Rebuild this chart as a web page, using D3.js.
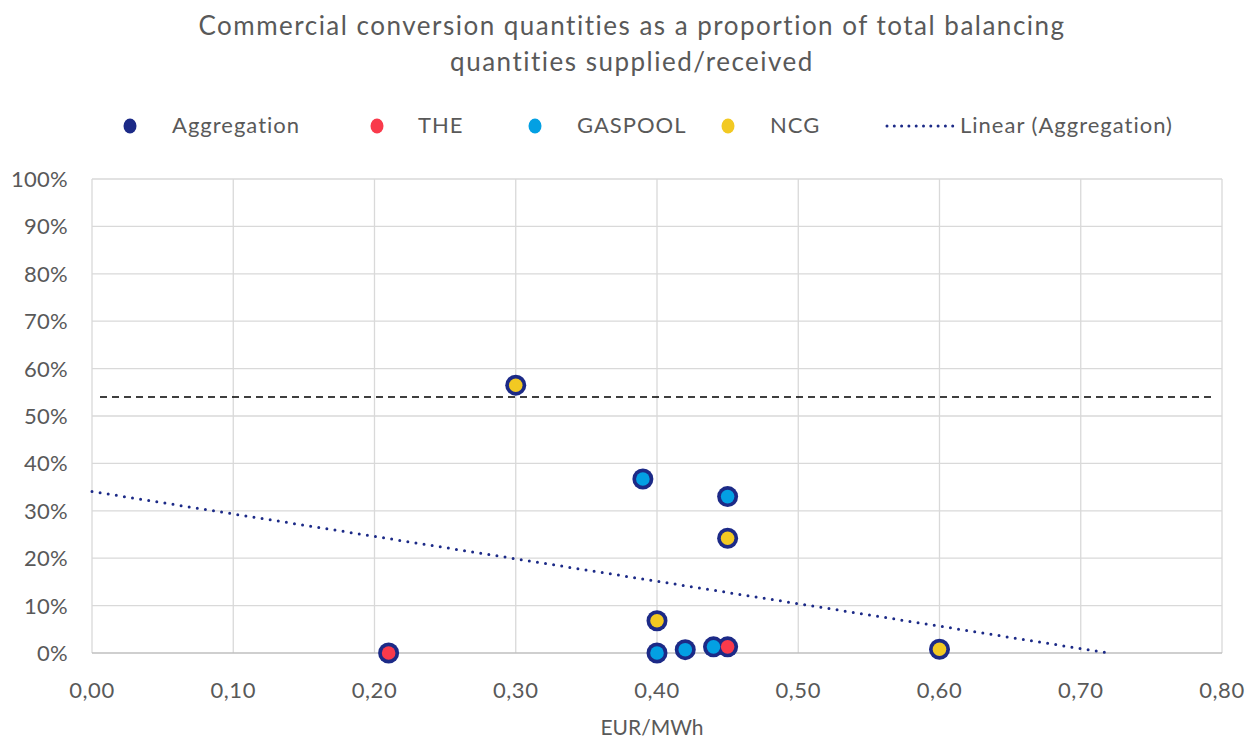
<!DOCTYPE html>
<html>
<head>
<meta charset="utf-8">
<title>Commercial conversion quantities</title>
<script src="https://d3js.org/d3.v7.min.js"></script>
<style>
  body { margin: 0; background: #fff; }
  text { font-family: Lato, "Open Sans", sans-serif; fill: #595959; }
</style>
</head>
<body>
<script>
// data (x in EUR/MWh, y as share)
var theX = [0.21, 0.45];
var theY = [0.000, 0.013];
var gaspoolX = [0.39, 0.45, 0.40, 0.42, 0.44];
var gaspoolY = [0.367, 0.330, 0.000, 0.007, 0.013];
var ncgX = [0.30, 0.45, 0.40, 0.60];
var ncgY = [0.565, 0.242, 0.068, 0.008];
var thresholdY = 0.54;

var xTicks = [0, 0.1, 0.2, 0.3, 0.4, 0.5, 0.6, 0.7, 0.8];
var yTicks = [0, 0.1, 0.2, 0.3, 0.4, 0.5, 0.6, 0.7, 0.8, 0.9, 1];

var colors = { agg: "#1c2a87", the: "#f93a4b", gaspool: "#03a0e3", ncg: "#f2c922" };

var W = 1255, H = 740;
var pLeft = 92, pRight = 1222, pTop = 179, pBottom = 653;

var svg = d3.select("body").append("svg").attr("width", W).attr("height", H);

var x = d3.scaleLinear().domain([0, 0.8]).range([pLeft, pRight]);
var y = d3.scaleLinear().domain([0, 1]).range([pBottom, pTop]);

// title
svg.append("text").attr("x", 632).attr("y", 35).attr("text-anchor", "middle")
  .style("font-size", "26px").style("letter-spacing", "1.5px")
  .text("Commercial conversion quantities as a proportion of total balancing");
svg.append("text").attr("x", 632).attr("y", 71).attr("text-anchor", "middle")
  .style("font-size", "26px").style("letter-spacing", "1.5px")
  .text("quantities supplied/received");

// grid
var grid = svg.append("g");
grid.selectAll(".gy").data(yTicks.slice(1)).enter().append("line")
  .attr("x1", pLeft).attr("x2", pRight).attr("y1", d => y(d)).attr("y2", d => y(d))
  .attr("stroke", "#d9d9d9").attr("stroke-width", 1.3);
grid.selectAll(".gx").data(xTicks).enter().append("line")
  .attr("x1", d => x(d)).attr("x2", d => x(d)).attr("y1", pTop).attr("y2", pBottom)
  .attr("stroke", "#d9d9d9").attr("stroke-width", 1.3);
svg.append("line").attr("x1", pLeft).attr("x2", pRight).attr("y1", pBottom).attr("y2", pBottom)
  .attr("stroke", "#bfbfbf").attr("stroke-width", 1.5);

// tick labels
var fmtX = d => d.toFixed(2).replace(".", ",");
svg.append("g").selectAll("text").data(xTicks).enter().append("text")
  .attr("x", d => x(d)).attr("y", 698).attr("text-anchor", "middle")
  .style("font-size", "22px").style("letter-spacing", "0.6px").text(fmtX);
svg.append("g").selectAll("text").data(yTicks).enter().append("text")
  .attr("x", 68).attr("y", d => y(d) + 8).attr("text-anchor", "end")
  .style("font-size", "22px").style("letter-spacing", "0.3px").text(d => Math.round(d * 100) + "%");
svg.append("text").attr("x", 652).attr("y", 735).attr("text-anchor", "middle")
  .style("font-size", "21px").text("EUR/MWh");

// threshold dashed line
svg.append("line").attr("x1", x(0) + 8).attr("x2", pRight - 6)
  .attr("y1", y(thresholdY)).attr("y2", y(thresholdY))
  .attr("stroke", "#000").attr("stroke-width", 1.6).attr("stroke-dasharray", "7,5");

// aggregation = all points; linear trendline fitted on it
var aggX = theX.concat(gaspoolX, ncgX);
var aggY = theY.concat(gaspoolY, ncgY);
var mx = d3.mean(aggX), my = d3.mean(aggY);
var sxy = d3.sum(aggX, (v, i) => (v - mx) * (aggY[i] - my));
var sxx = d3.sum(aggX, v => (v - mx) * (v - mx));
var slope = sxy / sxx, intercept = my - slope * mx;
var xEnd = -intercept / slope;
svg.append("line")
  .attr("x1", x(0)).attr("y1", y(intercept))
  .attr("x2", x(xEnd)).attr("y2", y(0))
  .attr("stroke", colors.agg).attr("stroke-width", 3)
  .attr("stroke-linecap", "round").attr("stroke-dasharray", "0,8.2");

// points
var agg = aggX.map((v, i) => [v, aggY[i]]);
svg.append("g").selectAll("circle").data(agg).enter().append("circle")
  .attr("cx", d => x(d[0])).attr("cy", d => y(d[1])).attr("r", 10.5)
  .attr("fill", colors.agg);
function series(xs, ys, c) {
  svg.append("g").selectAll("circle").data(xs.map((v, i) => [v, ys[i]])).enter().append("circle")
    .attr("cx", d => x(d[0])).attr("cy", d => y(d[1])).attr("r", 6.8).attr("fill", c);
}
series(gaspoolX, gaspoolY, colors.gaspool);
series(ncgX, ncgY, colors.ncg);
series(theX, theY, colors.the);

// legend
var legend = [
  { name: "Aggregation", c: colors.agg, mx: 130, tx: 172 },
  { name: "THE", c: colors.the, mx: 377, tx: 418 },
  { name: "GASPOOL", c: colors.gaspool, mx: 535, tx: 577 },
  { name: "NCG", c: colors.ncg, mx: 728, tx: 770 }
];
var lg = svg.append("g");
legend.forEach(function (l) {
  lg.append("ellipse").attr("cx", l.mx).attr("cy", 126).attr("rx", 6.5).attr("ry", 7.5).attr("fill", l.c);
  lg.append("text").attr("x", l.tx).attr("y", 133).style("font-size", "22px")
    .style("letter-spacing", "1px").text(l.name);
});
lg.append("line").attr("x1", 887).attr("x2", 953).attr("y1", 126).attr("y2", 126)
  .attr("stroke", colors.agg).attr("stroke-width", 3).attr("stroke-linecap", "round")
  .attr("stroke-dasharray", "0,7.3");
lg.append("text").attr("x", 960).attr("y", 133).style("font-size", "22px")
  .style("letter-spacing", "1px").text("Linear (Aggregation)");
</script>
</body>
</html>
